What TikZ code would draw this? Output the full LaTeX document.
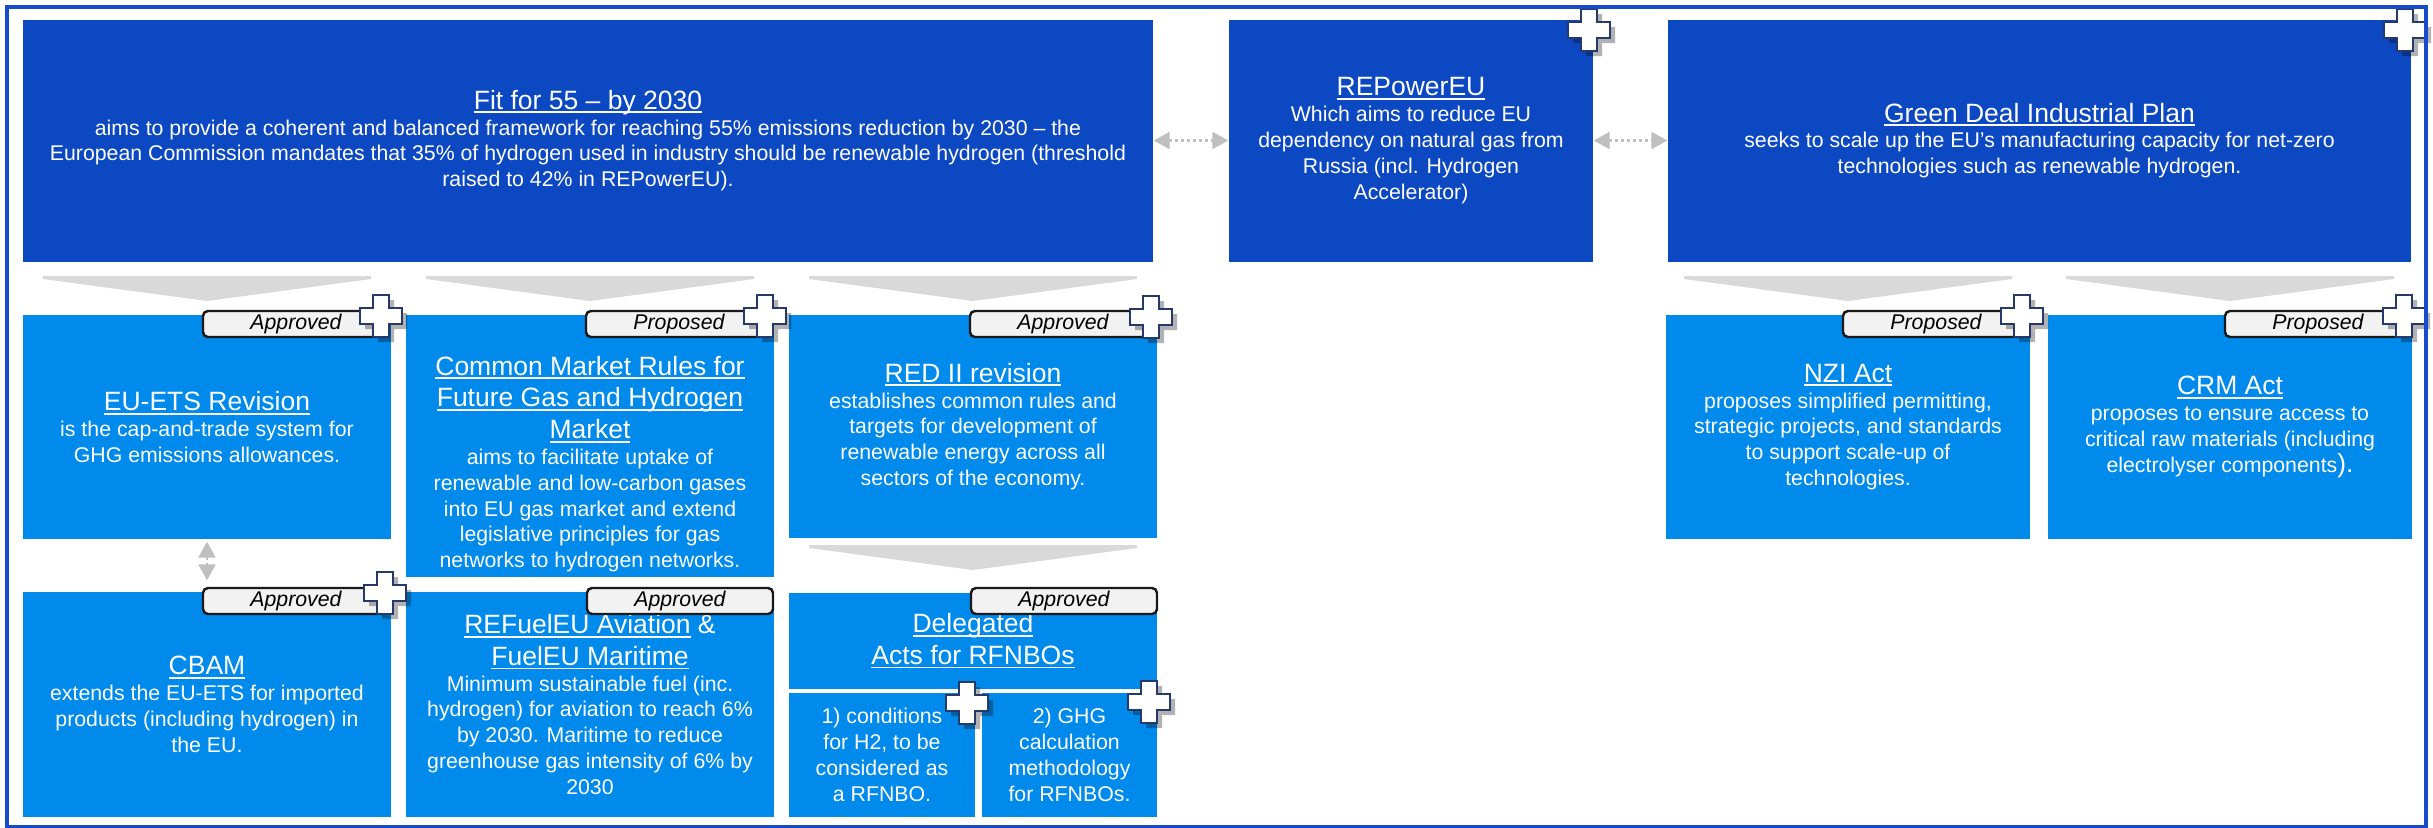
\documentclass[tikz,border=0pt]{standalone}
\usepackage{fontspec}
\setmainfont{Liberation Sans}
\usetikzlibrary{arrows.meta,shadows}

\definecolor{darkblue}{HTML}{0B48C1}
\definecolor{lightblue}{HTML}{008AEB}
\definecolor{framecol}{HTML}{174BCB}
\definecolor{chevgray}{HTML}{D9D9D9}
\definecolor{arrowgray}{HTML}{BFBFBF}
\definecolor{tagfill}{HTML}{F2F2F2}
\definecolor{navy}{HTML}{25396A}

\newcommand{\bodyfont}{\fontsize{6.06}{7.34}\selectfont}
\newcommand{\ttlfont}{\fontsize{7.54}{9}\selectfont}
\newcommand{\uln}[1]{\setbox0\hbox{#1}\rlap{\rule[-1.1pt]{\wd0}{0.5pt}}\box0\relax}
\newcommand{\ttl}[1]{{\ttlfont\uln{#1}}}

\begin{document}
\begin{tikzpicture}[x=0.1mm, y=-0.1mm,
    boxtext/.style={text=white, align=center, inner sep=0pt, font=\bodyfont},
    darkbox/.style={boxtext, fill=darkblue},
    lightbox/.style={boxtext, fill=lightblue},
    tagbox/.style={draw=black!90, line width=0.7pt, fill=tagfill, rounded corners=1.4pt,
      minimum width=18.6mm, minimum height=2.6mm, inner sep=0pt, font=\bodyfont\itshape},
    plusline/.style={fill=white, draw=navy, line width=0.75pt,
      drop shadow={shadow xshift=0.5mm, shadow yshift=-0.5mm, opacity=0.3, fill=black}},
    dotarrow/.style={arrowgray, line width=0.25mm, dash pattern=on 0.25mm off 0.35mm,
      {Triangle[length=1.6mm, width=1.7mm]}-{Triangle[length=1.6mm, width=1.7mm]}},
    pics/plusbadge/.style={code={
      \path[plusline] (-8,-21) -- (8,-21) -- (8,-8) -- (21,-8) -- (21,8) -- (8,8) -- (8,21)
        -- (-8,21) -- (-8,8) -- (-21,8) -- (-21,-8) -- (-8,-8) -- cycle;}},
    pics/chevron/.style={code={
      \fill[chevgray] (-164,0) -- (164,0) -- (164,3) -- (0,25) -- (-164,3) -- cycle;}}]
  \useasboundingbox (0,0) rectangle (2433,827);

  \node[darkbox, minimum width=113mm, minimum height=24.2mm] (fit) at (588,140.5)
    {\ttl{Fit for 55 -- by 2030}\\
     aims to provide a coherent and balanced framework for reaching 55\% emissions reduction by 2030 -- the\\
     European Commission mandates that 35\% of hydrogen used in industry should be renewable hydrogen (threshold\\
     raised to 42\% in REPowerEU).};
  \node[darkbox, minimum width=36.4mm, minimum height=24.2mm] (rep) at (1411,140.5)
    {\ttl{REPowerEU}\\ Which aims to reduce EU\\ dependency on natural gas from\\
     Russia (incl. Hydrogen\\ Accelerator)};
  \node[darkbox, minimum width=74.3mm, minimum height=24.2mm] (gdip) at (2039.5,140.5)
    {\ttl{Green Deal Industrial Plan}\\
     seeks to scale up the EU’s manufacturing capacity for net-zero\\
     technologies such as renewable hydrogen.};

  \node[lightbox, minimum width=36.8mm, minimum height=22.4mm] (ets) at (207,427)
    {\ttl{EU-ETS Revision}\\ is the cap-and-trade system for\\ GHG emissions allowances.};
  \node[lightbox, minimum width=36.8mm, minimum height=26.2mm] (cmr) at (590,446) {};
  \node[boxtext] (cmrtext) at (590,464)
    {\ttl{Common Market Rules for}\\[1.7pt] \ttl{Future Gas and Hydrogen}\\[1.7pt] \ttl{Market}\\
     aims to facilitate uptake of\\ renewable and low-carbon gases\\ into EU gas market and extend\\
     legislative principles for gas\\ networks to hydrogen networks.};
  \node[lightbox, minimum width=36.8mm, minimum height=22.3mm] (red) at (973,426.5)
    {\ttl{RED II revision}\\ establishes common rules and\\ targets for development of\\
     renewable energy across all\\ sectors of the economy.};
  \node[lightbox, minimum width=36.4mm, minimum height=22.4mm] (nzi) at (1848,427)
    {\ttl{NZI Act}\\ proposes simplified permitting,\\ strategic projects, and standards\\
     to support scale-up of\\ technologies.};
  \node[lightbox, minimum width=36.4mm, minimum height=22.4mm] (crm) at (2230,427)
    {\ttl{CRM Act}\\ proposes to ensure access to\\ critical raw materials (including\\
     electrolyser components{\fontsize{7.5}{7.34}\selectfont).}};

  \node[lightbox, minimum width=36.8mm, minimum height=22.5mm] (cbam) at (207,704.5)
    {\ttl{CBAM}\\ extends the EU-ETS for imported\\ products (including hydrogen) in\\ the EU.};
  \node[lightbox, minimum width=36.8mm, minimum height=22.5mm] (refuel) at (590,704.5)
    {{\ttlfont\uln{REFuelEU Aviation} \&}\\[1.7pt] \ttl{FuelEU Maritime}\\
     Minimum sustainable fuel (inc.\\ hydrogen) for aviation to reach 6\%\\
     by 2030. Maritime to reduce\\ greenhouse gas intensity of 6\% by\\ 2030};
  \node[lightbox, minimum width=36.8mm, minimum height=9.6mm] (dact) at (973,641)
    {\ttl{Delegated}\\[1.7pt] \ttl{Acts for RFNBOs}};
  \node[lightbox, minimum width=18.6mm, minimum height=12.4mm] (dsub1) at (882,755)
    {1) conditions\\ for H2, to be\\ considered as\\ a RFNBO.};
  \node[lightbox, minimum width=17.5mm, minimum height=12.4mm] (dsub2) at (1069.5,755)
    {2) GHG\\ calculation\\ methodology\\ for RFNBOs.};

  \node[tagbox] (etstag) at (296,324) {Approved};
  \node[tagbox] (cmrtag) at (679,324) {Proposed};
  \node[tagbox] (redtag) at (1063,324) {Approved};
  \node[tagbox] (nzitag) at (1936,324) {Proposed};
  \node[tagbox] (crmtag) at (2318,324) {Proposed};
  \node[tagbox] (cbamtag) at (296,601) {Approved};
  \node[tagbox] (refueltag) at (680,601) {Approved};
  \node[tagbox] (dacttag) at (1064,601) {Approved};

  \pic at (1589,30) {plusbadge};
  \pic at (2405,30) {plusbadge};
  \pic at (381,316) {plusbadge};
  \pic at (765,316) {plusbadge};
  \pic at (1151,317) {plusbadge};
  \pic at (2022,316) {plusbadge};
  \pic at (2404,316) {plusbadge};
  \pic at (385,593) {plusbadge};
  \pic at (967,703) {plusbadge};
  \pic at (1149,702) {plusbadge};

  \pic at (207,276) {chevron};
  \pic at (590,276) {chevron};
  \pic at (973,276) {chevron};
  \pic at (1848,276) {chevron};
  \pic at (2230,276) {chevron};
  \pic at (973,545) {chevron};

  \draw[dotarrow] (fit) -- (rep);
  \draw[dotarrow] (rep) -- (gdip);
  \draw[dotarrow, shorten <=0.2mm, shorten >=1.1mm] (ets) -- (cbam);

  \draw[framecol, line width=0.45mm] (7,7) rectangle (2426,827);
\end{tikzpicture}
\end{document}
